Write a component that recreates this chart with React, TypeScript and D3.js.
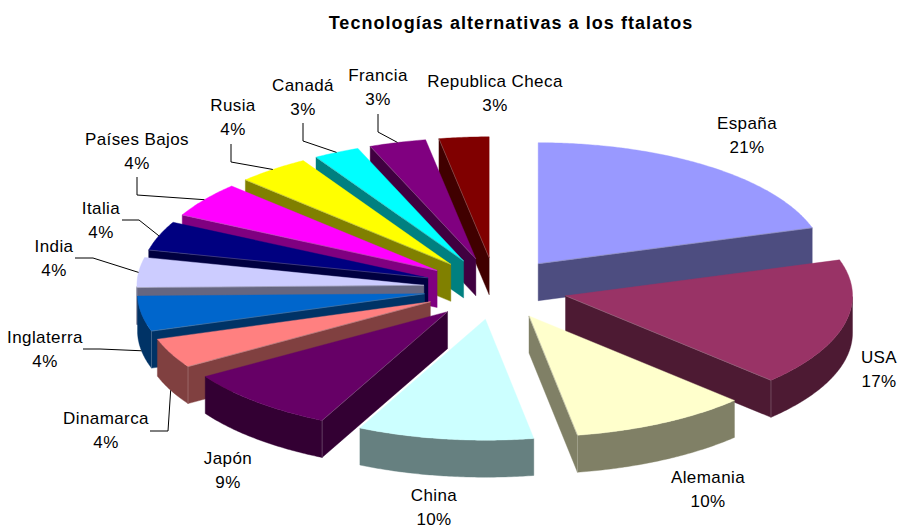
import React from "react";
import * as d3 from "d3";

const titleText = "Tecnologías alternativas a los ftalatos";
const countries = ["España","USA","Alemania","China","Japón","Dinamarca","Inglaterra","India","Italia","Países Bajos","Rusia","Canadá","Francia","Republica Checa"];
// slice sizes
const shares = [20.2,17.1,10.0,9.9,8.8,4.0,4.7,4.0,3.9,4.7,4.1,2.6,3.2,2.8];
// percentages as printed on the labels
const printed = ["21%","17%","10%","10%","9%","4%","4%","4%","4%","4%","4%","3%","3%","3%"];
const topColors = ["#9999FF","#993366","#FFFFCC","#CCFFFF","#660066","#FF8080","#0066CC","#CCCCFF","#000080","#FF00FF","#FFFF00","#00FFFF","#800080","#800000"];

const W = 898, H = 526;
const CX = 495.5, CY = 288.6, RX = 287, RY = 121, EX = 72, EY = 30.9, DEPTH = 37;
const labelX = [747,879,708,434,228,106,45,54,101,137,233,303,378,495];
const labelY = [123,357,477,494.5,458,418,337,246,208,139,105,85,75,81];
// elbow of the leader line: label-side start and knee, only for labelled slices with leaders
const leaders: Record<number, [number, number, number, number]> = {
  5: [150,431,168,431],
  6: [83,349,100,349],
  7: [75,258,93,258],
  8: [122,220,139,220],
  9: [137,177,137,195],
  10: [231,144,231,162],
  11: [303,123,303,141],
  12: [378,114,378,132],
};

const x = d3.scaleLinear().domain([-1,1]).range([-RX,RX]);
const y = d3.scaleLinear().domain([-1,1]).range([-RY,RY]);
const arcs = d3.pie<number>().sort(null).value(d=>d)(shares);
const line = d3.line();

type Pt = [number,number];
const App = () => {
  const slices = arcs.map((a,i)=>{
    const mid=(a.startAngle+a.endAngle)/2;
    const ax=CX+EX*Math.sin(mid), ay=CY-EY*Math.cos(mid);
    const at=(t:number):Pt=>[ax+x(Math.sin(t)), ay+y(-Math.cos(t))];
    const n=Math.max(2,Math.ceil((a.endAngle-a.startAngle)/0.01));
    const ts=d3.range(n+1).map(k=>a.startAngle+(a.endAngle-a.startAngle)*k/n);
    const top:Pt[]=[[ax,ay],...ts.map(at)];
    const down=(p:Pt):Pt=>[p[0],p[1]+DEPTH];
    const walls:Pt[][]=[];
    const edges:Pt[][]=[];
    const apex:Pt=[ax,ay];
    const addWall=(t:number)=>{
      const p=at(t);
      walls.push([apex,p,down(p),down(apex)]);
      edges.push([apex,p]);
      if(Math.cos(t)<0) edges.push([p,down(p)]);
    };
    if(Math.cos(a.startAngle-Math.PI/2)<-1e-6) addWall(a.startAngle);
    if(Math.cos(a.endAngle+Math.PI/2)<-1e-6) addWall(a.endAngle);
    const front=ts.filter(t=>Math.cos(t)<=0);
    if(front.length>1){const pts=front.map(at);walls.push([...pts,...pts.slice().reverse().map(down)]);}
    const outer=at(mid);
    const anchor:Pt=Math.cos(mid)<0?down(outer):outer;
    const base=d3.color(topColors[i])!.rgb();
    const side=d3.rgb(base.r/2,base.g/2,base.b/2).formatHex();
    const edgeColor=d3.interpolateRgb(side,"#ffffff")(0.35);
    return {i,mid,top,walls,edges,side,edgeColor,fill:topColors[i],anchor};
  });
  const order=slices.slice().sort((p,q)=>(-Math.cos(p.mid))-(-Math.cos(q.mid)));
  return (
    <svg width={W} height={H} style={{position:"absolute",left:0,top:0,background:"#fff"}} fontFamily="'Liberation Sans', Arial, sans-serif">
      <text x={511} y={28.5} textAnchor="middle" fontSize={18} fontWeight="bold" letterSpacing={1.05} fill="#000">{titleText}</text>
      {order.map(s=>(
        <g key={s.i}>
          {s.walls.map((w,k)=><path key={k} d={line(w)+"Z"} fill={s.side} stroke={s.side} strokeWidth={0.4}/>)}
          <path d={line(s.top)+"Z"} fill={s.fill} stroke={s.fill} strokeWidth={0.4}/>
          {s.edges.map((e,k)=><path key={k} d={line(e)!} fill="none" stroke={s.edgeColor} strokeWidth={0.6}/>)}
        </g>
      ))}
      {slices.filter(s=>leaders[s.i]).map(s=>{
        const l=leaders[s.i];
        return <path key={s.i} d={line([[l[0],l[1]],[l[2],l[3]],s.anchor])!} fill="none" stroke="#000" strokeWidth={1}/>;
      })}
      {countries.map((c,i)=>(
        <g key={c} fontSize={17} textAnchor="middle" fill="#000" letterSpacing={0.4}>
          <text x={labelX[i]} y={labelY[i]+6}>{c}</text>
          <text x={labelX[i]} y={labelY[i]+30}>{printed[i]}</text>
        </g>
      ))}
    </svg>
  );
};
export default App;
